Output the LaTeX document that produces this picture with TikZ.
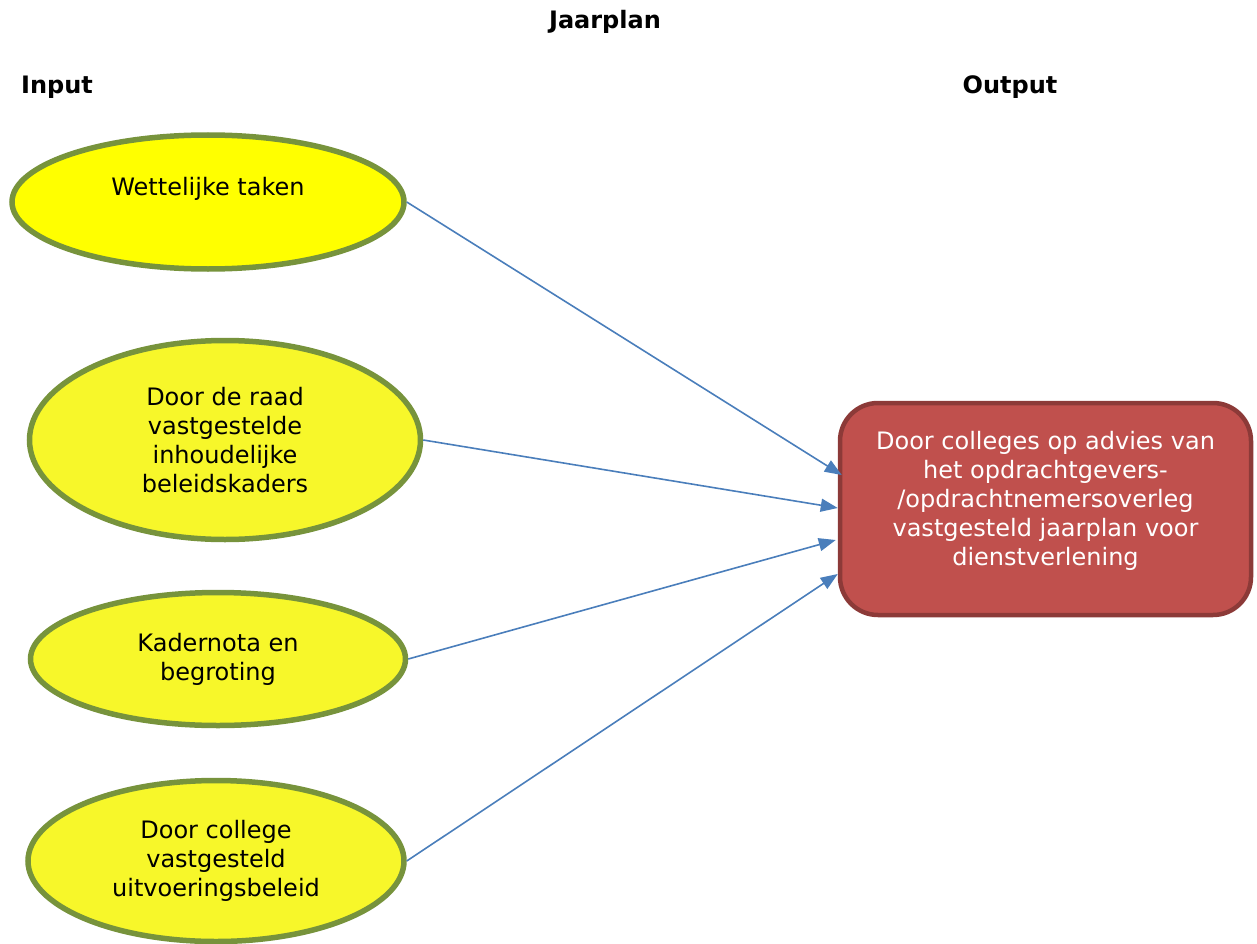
\documentclass[tikz,border=0pt]{standalone}
\usepackage{fontspec}
\setmainfont{DejaVu Sans}
\usetikzlibrary{shapes.geometric,arrows.meta}
\definecolor{inyellow}{HTML}{FFFF00}
\definecolor{inyellowb}{HTML}{F7F72A}
\definecolor{inborder}{HTML}{77933C}
\definecolor{outred}{HTML}{C0504D}
\definecolor{outborder}{HTML}{8C3A38}
\definecolor{linkblue}{HTML}{4A7EBB}
\begin{document}
\begin{tikzpicture}[x=1pt, y=-1pt,
  txt/.style={font=\fontsize{24}{29}\selectfont},
  hdr/.style={font=\fontsize{24}{29}\selectfont\bfseries},
  inbox/.style={ellipse, draw=inborder, line width=5.5pt, fill=inyellowb,
    inner sep=0pt, align=center, txt},
  outbox/.style={rectangle, rounded corners=38pt, draw=outborder, line width=4.5pt,
    fill=outred, text=white, align=center, txt,
    minimum width=411pt, minimum height=212pt},
  link/.style={linkblue, line width=1.6pt, -{Triangle[length=17pt,width=13pt]}}]

\useasboundingbox (0,0) rectangle (1257,944);

\node[hdr] (title) at (605,22) {Jaarplan};
\node[hdr] (input) at (57,87) {Input};
\node[hdr] (output) at (1010,87) {Output};

\node[inbox, fill=inyellow, minimum width=392pt, minimum height=134pt, text depth=32pt] (wet) at (208,202) {Wettelijke taken};
\node[inbox, minimum width=391pt, minimum height=199pt] (raad) at (225,440) {Door de raad\\vastgestelde\\inhoudelijke\\beleidskaders};
\node[inbox, minimum width=375pt, minimum height=133pt] (kader) at (218,659) {Kadernota en\\begroting};
\node[inbox, minimum width=376pt, minimum height=161pt] (college) at (216,861) {Door college\\vastgesteld\\uitvoeringsbeleid};

\node[outbox, text depth=22pt] (plan) at (1045.5,509) {Door colleges op advies van\\het opdrachtgevers-\\/opdrachtnemersoverleg\\vastgesteld jaarplan voor\\dienstverlening};

\draw[link] (wet.east) -- ([xshift=4pt,yshift=34pt]plan.west);
\draw[link] (raad.east) -- ([yshift=1pt]plan.west);
\draw[link] (kader.east) -- ([xshift=-2pt,yshift=-31pt]plan.west);
\draw[link] (college.east) -- ([yshift=-65pt]plan.west);

\end{tikzpicture}
\end{document}
